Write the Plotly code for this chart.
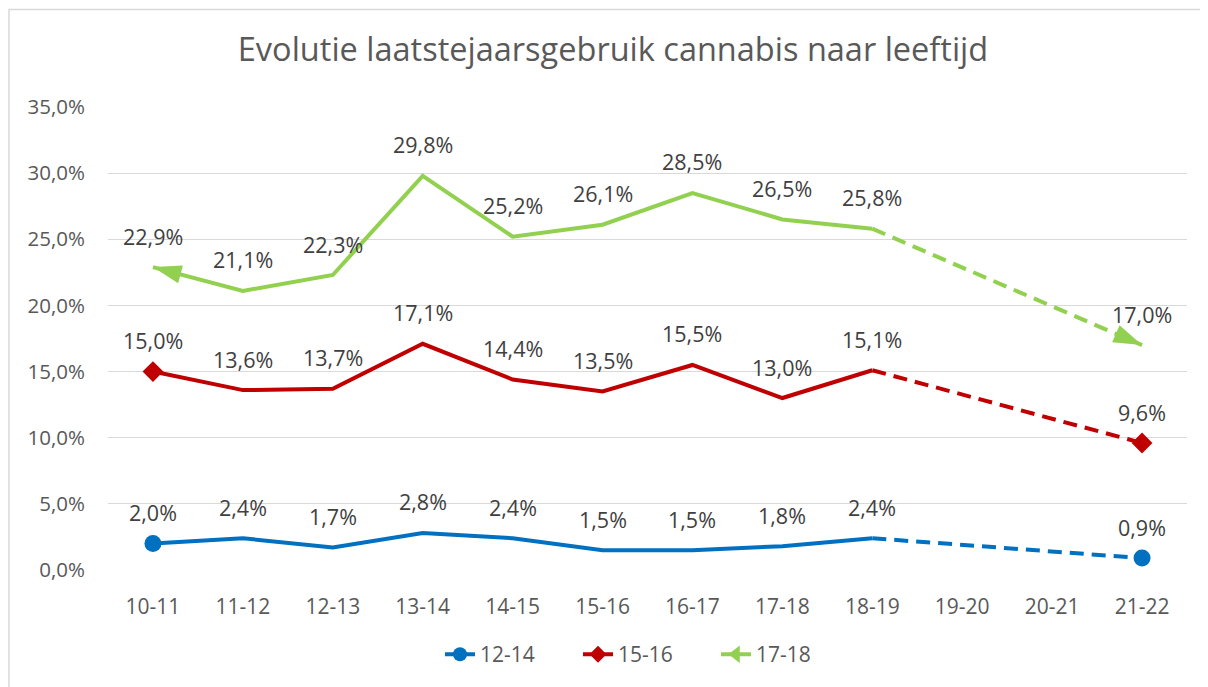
import math
import plotly.graph_objects as go

categories = ["10-11", "11-12", "12-13", "13-14", "14-15", "15-16",
              "16-17", "17-18", "18-19", "19-20", "20-21", "21-22"]
series_names = ["12-14", "15-16", "17-18"]
# values per category (None = no survey)
v_12_14 = [2.0, 2.4, 1.7, 2.8, 2.4, 1.5, 1.5, 1.8, 2.4, None, None, 0.9]
v_15_16 = [15.0, 13.6, 13.7, 17.1, 14.4, 13.5, 15.5, 13.0, 15.1, None, None, 9.6]
v_17_18 = [22.9, 21.1, 22.3, 29.8, 25.2, 26.1, 28.5, 26.5, 25.8, None, None, 17.0]
y_ticks = [0, 5, 10, 15, 20, 25, 30, 35]

colors = ["#0070C0", "#C00000", "#92D050"]
# page body has an 8px margin, so the figure is 8px smaller than the window
W, H = 1200, 679
ML, MR, MT, MB = 100, 21, 99, 115
PW, PH = W - ML - MR, H - MT - MB
YMAX = 35
FONT = "Open Sans"

def lbl(v):
    return f"{v:.1f}%".replace(".", ",")

def px_angle(i0, v0, i1, v1):
    # direction from (i0,v0) to (i1,v1) in pixel space, degrees clockwise from up
    dx = (i1 - i0) * PW / len(categories)
    dy = -(v1 - v0) * PH / YMAX
    return math.degrees(math.atan2(dx, -dy))

fig = go.Figure()
all_vals = [v_12_14, v_15_16, v_17_18]
symbols = ["circle", "diamond", "arrow"]
msize = [17, 16, 30]

for name, vals, col, sym, ms in zip(series_names, all_vals, colors, symbols, msize):
    fig.add_trace(go.Scatter(x=categories[:9], y=vals[:9], mode="lines",
                             line=dict(color=col, width=4), showlegend=False,
                             hoverinfo="skip"))
    fig.add_trace(go.Scatter(x=[categories[8], categories[11]], y=[vals[8], vals[11]],
                             mode="lines",
                             line=dict(color=col, width=4, dash="14px,8px"),
                             showlegend=False, hoverinfo="skip"))
    ends_x = [categories[0], categories[11]]
    ends_y = [vals[0], vals[11]]
    if sym == "arrow":
        angles = [px_angle(1, vals[1], 0, vals[0]), px_angle(8, vals[8], 11, vals[11])]
        marker = dict(symbol="arrow", size=ms, color=col, angle=angles)
    else:
        marker = dict(symbol=sym, size=ms, color=col)
    fig.add_trace(go.Scatter(x=ends_x, y=ends_y, mode="markers", marker=marker,
                             showlegend=False, hoverinfo="skip"))
    lm = dict(symbol=sym if sym != "arrow" else "triangle-left",
              size=ms - 3 if sym != "arrow" else 15, color=col)
    fig.add_trace(go.Scatter(x=[None], y=[None], mode="lines+markers", name=name,
                             line=dict(color=col, width=4), marker=lm))

annotations = []
for vals in all_vals:
    for c, v in zip(categories, vals):
        if v is None:
            continue
        annotations.append(dict(x=c, y=v, text=lbl(v), showarrow=False, yshift=31,
                                font=dict(family=FONT, size=21.5, color="#404040")))

fig.update_layout(
    width=W, height=H,
    margin=dict(l=ML, r=MR, t=MT, b=MB),
    paper_bgcolor="white", plot_bgcolor="white",
    separators=",.",
    title=dict(text="Evolutie laatstejaarsgebruik cannabis naar leeftijd",
               x=605 / W, xanchor="center", y=1 - 42 / H, yanchor="middle",
               font=dict(family=FONT, size=32.5, color="#595959")),
    xaxis=dict(type="category", categoryorder="array", categoryarray=categories,
               tickvals=categories, range=[-0.5, len(categories) - 0.5],
               showgrid=False, showline=False, ticks="", zeroline=False,
               ticklabelstandoff=22,
               tickfont=dict(family=FONT, size=21, color="#595959")),
    yaxis=dict(range=[0, YMAX], tickvals=y_ticks,
               ticktext=[lbl(t) for t in y_ticks],
               showgrid=True, gridcolor="#d9d9d9", gridwidth=1, zeroline=False,
               showline=False, ticks="", ticklabelstandoff=22,
               tickfont=dict(family=FONT, size=20.5, color="#595959")),
    legend=dict(orientation="h", x=(432 - ML) / PW, xanchor="left",
                y=-(649 - (H - MB)) / PH, yanchor="middle",
                entrywidth=93, entrywidthmode="pixels",
                font=dict(family=FONT, size=21, color="#595959")),
    annotations=annotations,
    shapes=[dict(type="rect", xref="paper", yref="paper",
                 x0=(1 - ML) / PW, x1=(W + 20 - ML) / PW,
                 y0=(H - MB - 1) / PH, y1=-(MB + 20) / PH,
                 line=dict(color="#d9d9d9", width=1.5), layer="below")],
)

fig.write_html("out.html")
